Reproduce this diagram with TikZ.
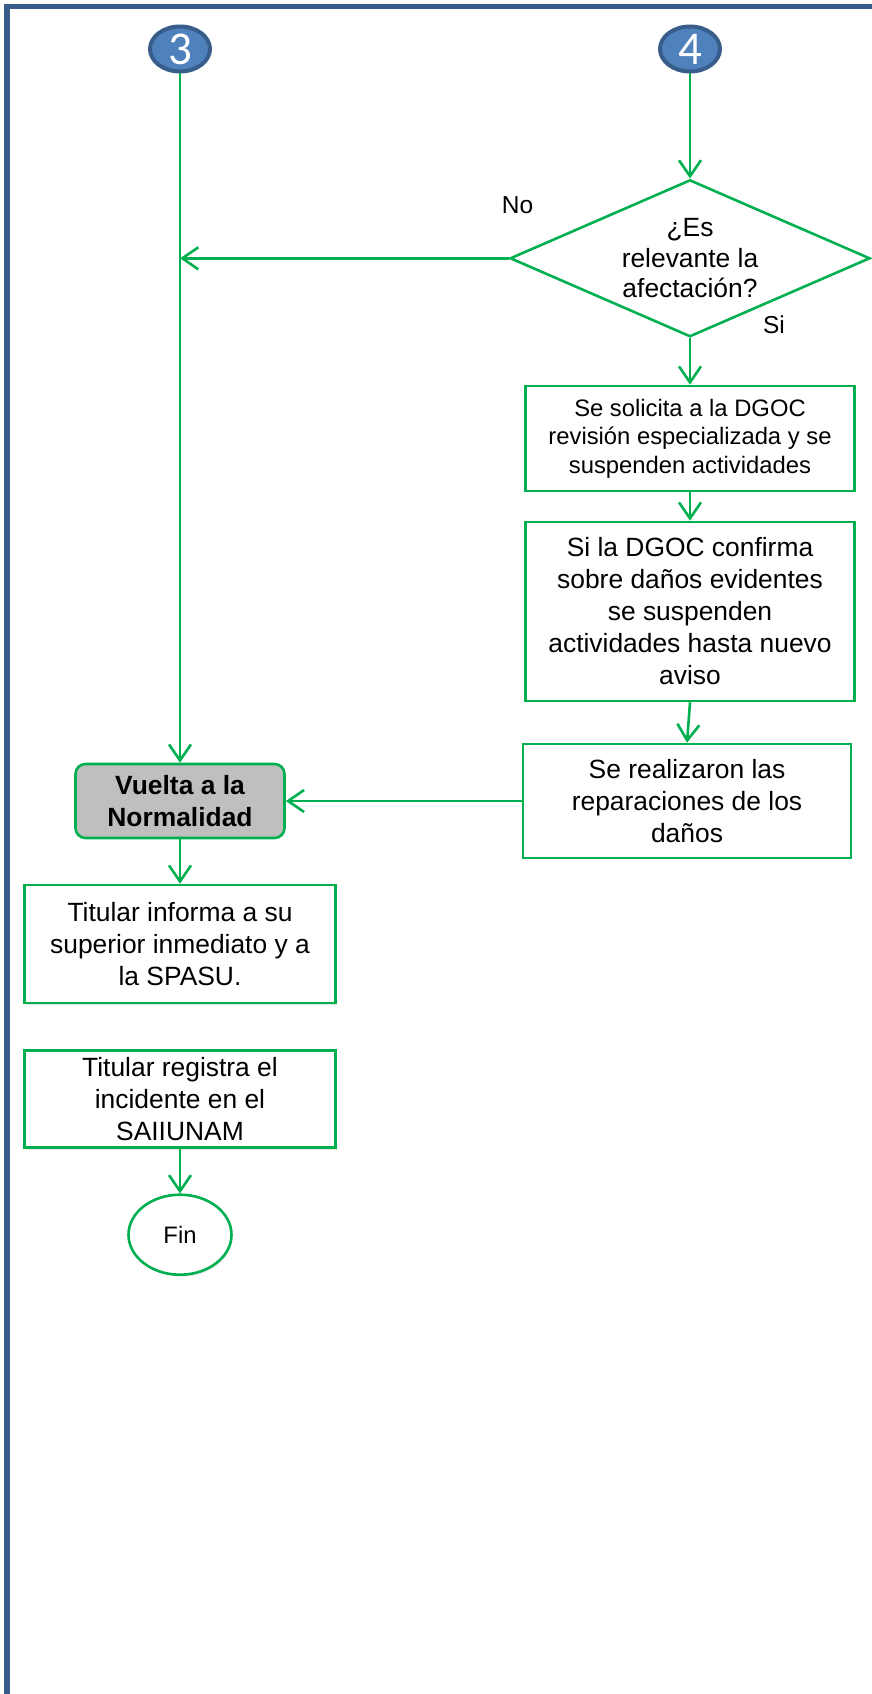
\documentclass[tikz,border=0pt]{standalone}
\usepackage{fontspec}
\setmainfont{Liberation Sans}
\newfontfamily\numfont{Carlito}
\usetikzlibrary{arrows.meta,shapes.geometric,shadows}
\definecolor{flowgreen}{RGB}{0,176,80}
\definecolor{framebl}{RGB}{56,93,138}
\definecolor{circbl}{RGB}{79,129,189}
\definecolor{boxgray}{RGB}{191,191,191}

\begin{document}
\begin{tikzpicture}
                [x=1pt, y=-1pt,
                 flow/.style = {draw=flowgreen, line width=2.6pt},
                 arr/.style = {flow, -{Straight Barb[length=16pt, width=22pt]}},
                 box/.style = {flow, fill=white, inner sep=0pt, align=center, font=\fontsize{26.4}{32}\selectfont},
                 shade1/.style = {drop shadow={shadow xshift=1pt, shadow yshift=-2pt, opacity=0.2}},
                 conn/.style = {ellipse, draw=framebl, line width=4pt, fill=circbl, minimum width=60pt, minimum height=45pt, inner sep=0pt, text=white, font=\numfont\fontsize{47}{50}\selectfont},
                 lbl/.style = {font=\fontsize{24.5}{28}\selectfont}]
                \useasboundingbox (0,0) rectangle (871,1694);
                % page frame
                \draw[framebl, line width=5.5pt] (7,1710) -- (7,6.5) -- (885,6.5);
                % off-page connectors
                \node[conn] (c3) at (180,49) {3};
                \node[conn] (c4) at (690,49) {4};
                % decision
                \node[flow, diamond, aspect=2.29, minimum width=360pt, minimum height=157pt, inner sep=0pt, align=center, font=\fontsize{26.4}{30.5}\selectfont] (q) at (690,258.3) {¿Es\\relevante la\\afectación?};
                \node[lbl] (no) at (517.5,205) {No};
                \node[lbl] (si) at (774,325) {Si};
                \coordinate (j) at (180,258.3);
                % right column
                \node[box, minimum width=329pt, minimum height=105pt, font=\fontsize{23.8}{28.5}\selectfont] (s1) at (690,438.5) {Se solicita a la DGOC\\revisión especializada y se\\suspenden actividades};
                \node[box, minimum width=329pt, minimum height=179pt] (s2) at (690,611.5) {Si la DGOC confirma\\sobre daños evidentes\\se suspenden\\actividades hasta nuevo\\aviso};
                \node[box, minimum width=328pt, minimum height=114pt] (s3) at (687,801) {Se realizaron las\\reparaciones de los\\daños};
                % left column
                \node[box, fill=boxgray, rounded corners=10pt, minimum width=209pt, minimum height=74pt, font=\bfseries\fontsize{26.4}{31.5}\selectfont] (vn) at (180,801) {Vuelta a la\\Normalidad};
                \node[box, shade1, minimum width=311pt, minimum height=118pt] (t1) at (180,944) {Titular informa a su\\superior inmediato y a\\la SPASU.};
                \node[box, shade1, minimum width=311pt, minimum height=97pt] (t2) at (180,1099) {Titular registra el\\incidente en el\\SAIIUNAM};
                \node[box, shade1, ellipse, minimum width=103pt, minimum height=80pt, font=\fontsize{23.8}{28}\selectfont] (fin) at (180,1234.7) {Fin};
                % Lines
                \draw[arr] (c4.south) -- (q.north);
                \draw[arr] (q.west) -- (j);
                \draw[arr] (q.south) -- (s1.north);
                \draw[arr] (s1.south) -- (s2.north);
                \draw[arr] (s2.south) -- (s3.north);
                \draw[arr] (s3.west) -- (vn.east);
                \draw[arr] (c3.south) -- (vn.north);
                \draw[arr] (vn.south) -- (t1.north);
                \draw[arr] (t2.south) -- (fin.north);
            \end{tikzpicture}
\end{document}
